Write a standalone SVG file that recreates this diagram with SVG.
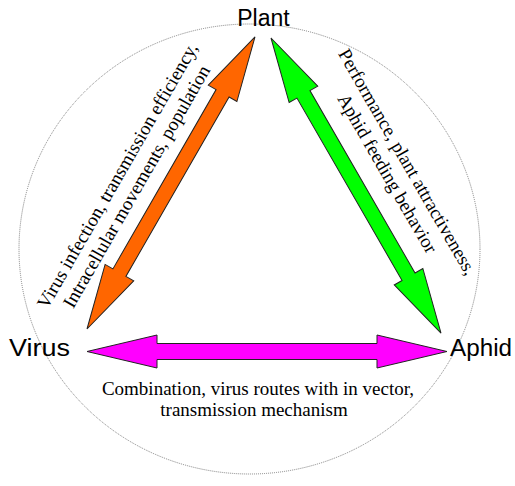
<svg xmlns="http://www.w3.org/2000/svg" width="515" height="486" viewBox="0 0 515 486">
<style>
.lbl{font-family:"Liberation Sans",Arial,sans-serif;font-size:23px;fill:#000}
.note{font-family:"Liberation Serif","Times New Roman",serif;font-size:19px;fill:#000;text-anchor:middle}
.arr{stroke:#222;stroke-width:1;stroke-linejoin:miter}
</style>
<rect width="515" height="486" fill="#fff"/>
<ellipse cx="249.5" cy="249" rx="230.5" ry="225" fill="none" stroke="#808080" stroke-width="1" stroke-dasharray="1 1"/>
<g id="connectors">
<path class="arr" fill="#FF6600" transform="translate(87,329) rotate(-60.09)" d="M0,0 L65,-16.5 L65,-7.5 L271.9,-7.5 L271.9,-16.5 L336.9,0 L271.9,16.5 L271.9,7.5 L65,7.5 L65,16.5 Z"/>
<path class="arr" fill="#00FF00" transform="translate(271,38) rotate(60.05)" d="M0,0 L65,-16.5 L65,-7.5 L275.5,-7.5 L275.5,-16.5 L340.5,0 L275.5,16.5 L275.5,7.5 L65,7.5 L65,16.5 Z"/>
<path class="arr" fill="#FF00FF" transform="translate(87,351.5)" d="M0,0 L70,-16.5 L70,-8 L290,-8 L290,-16.5 L360,0 L290,16.5 L290,8 L70,8 L70,16.5 Z"/>
<g transform="translate(161,200.6) rotate(-60.09)">
<text class="note" x="0" y="-44">Virus infection, transmission efficiency,</text>
<text class="note" x="0" y="-22">Intracellular movements, population</text>
</g>
<g transform="translate(358.6,190.1) rotate(60.05)">
<text class="note" x="0" y="-50">Performance, plant attractiveness,</text>
<text class="note" x="0" y="-27">Aphid feeding behavior</text>
</g>
<text class="note" x="258" y="395">Combination, virus routes with in vector,</text>
<text class="note" x="254" y="415.5">transmission mechanism</text>
</g>
<g id="plant"><text class="lbl" x="263.5" y="26" text-anchor="middle">Plant</text></g>
<g id="virus"><text class="lbl" x="9" y="356" textLength="61" lengthAdjust="spacingAndGlyphs">Virus</text></g>
<g id="aphid"><text class="lbl" x="450" y="356" textLength="62" lengthAdjust="spacingAndGlyphs">Aphid</text></g>
</svg>
